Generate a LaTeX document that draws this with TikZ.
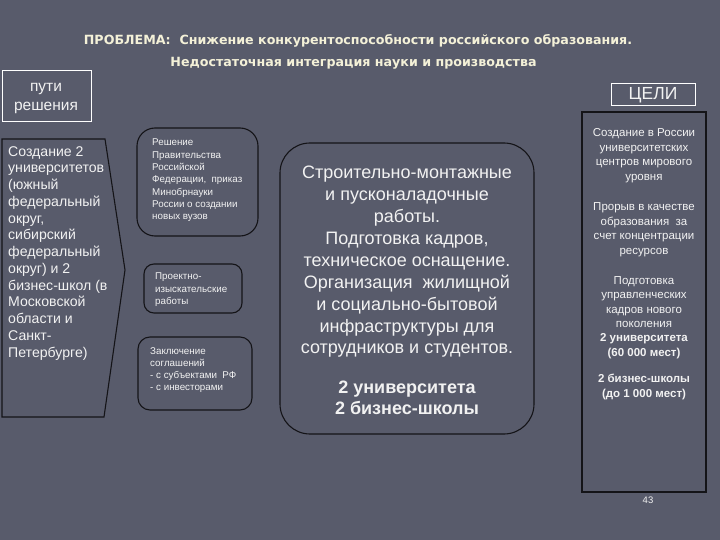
\documentclass[tikz,border=0pt]{standalone}
\usepackage{fontspec}
\setmainfont{Liberation Sans}
\newfontfamily\titlefont{DejaVu Sans}
\definecolor{bg}{HTML}{585B6B}
\definecolor{ttl}{HTML}{F4F1D8}
\definecolor{txt}{HTML}{F2F2F2}
\definecolor{edge}{HTML}{141418}
\tikzset{
  ttext/.style={text=ttl,inner sep=0pt,font=\titlefont\bfseries\fontsize{12.65}{15}\selectfont},
  wbox/.style={draw=white,line width=0.9pt},
  kbox/.style={draw=edge,line width=1.1pt},
  btext/.style={text=txt,inner sep=0pt},
}
\begin{document}
\begin{tikzpicture}[x=1pt,y=-1pt]
\fill[bg] (0,0) rectangle (720,540);
\useasboundingbox (0,0) rectangle (720,540);

% title
\node[ttext,anchor=base] (t1) at (358,44.5) {ПРОБЛЕМА:\ \ Снижение конкурентоспособности российского образования.};
\node[ttext,anchor=base] (t2) at (353.5,66.5) {Недостаточная интеграция науки и производства};

% header boxes
\draw[wbox] (2,70) rectangle (91,121);
\node[btext,align=center,font=\fontsize{15.5}{19}\selectfont] (puti) at (46,99) {пути\\решения};
\draw[wbox] (611,83) rectangle (695,105);
\node[btext,font=\fontsize{17.5}{20}\selectfont] (celi) at (653,95) {ЦЕЛИ};

% left arrow shape
\draw[kbox,line join=miter] (2,139) -- (105,139) -- (125,270) -- (104,417) -- (2,417) -- cycle;
\node[btext,anchor=north west,align=left,font=\fontsize{14.1}{16.75}\selectfont] (left) at (8,146)
 {Создание 2\\университетов\\(южный\\федеральный\\округ,\\сибирский\\федеральный\\округ) и 2\\бизнес-школ (в\\Московской\\области и\\Санкт-\\Петербурге)};

% middle small boxes
\draw[kbox,rounded corners=18pt] (137,128) rectangle (258,236);
\node[btext,anchor=north west,align=left,font=\fontsize{9.8}{12.3}\selectfont] (b1) at (152,139)
 {Решение\\Правительства\\Российской\\Федерации,\ \ приказ\\Минобрнауки\\России о создании\\новых вузов};
\draw[kbox,rounded corners=10pt] (144,264) rectangle (242,313);
\node[btext,anchor=north west,align=left,font=\fontsize{9.8}{12.5}\selectfont] (b2) at (155,273)
 {Проектно-\\изыскательские\\работы};
\draw[kbox,rounded corners=12pt] (138,337) rectangle (252,410);
\node[btext,anchor=north west,align=left,font=\fontsize{9.8}{12.3}\selectfont] (b3) at (150,347)
 {Заключение\\соглашений\\- с субъектами\ \ РФ\\- с инвесторами};

% big box
\draw[kbox,rounded corners=30pt] (280,143) rectangle (534,434);
\node[btext,anchor=north,align=center,font=\fontsize{18}{21.9}\selectfont] (big) at (407,166)
 {Строительно-монтажные\\и пусконаладочные\\работы.\\Подготовка кадров,\\техническое оснащение.\\Организация\ \ жилищной\\и социально-бытовой\\инфраструктуры для\\сотрудников и студентов.};
\node[btext,anchor=north,align=center,font=\bfseries\fontsize{18}{20.5}\selectfont] (bigb) at (407,381)
 {2 университета\\2 бизнес-школы};

% right box
\draw[kbox] (582,112) rectangle (706,492);
\node[btext,anchor=north,align=center,font=\fontsize{11.5}{14.6}\selectfont] (r1) at (644,128.5)
 {Создание в России\\университетских\\центров мирового\\уровня};
\node[btext,anchor=north,align=center,font=\fontsize{11.5}{14.6}\selectfont] (r2) at (644,202.5)
 {Прорыв в качестве\\образования\ \ за\\счет концентрации\\ресурсов};
\node[btext,anchor=north,align=center,font=\fontsize{11.5}{14.3}\selectfont] (r3) at (644,276.5)
 {Подготовка\\управленческих\\кадров нового\\поколения\\\textbf{2 университета}\\\textbf{(60 000 мест)}};
\node[btext,anchor=north,align=center,font=\bfseries\fontsize{11.5}{15.5}\selectfont] (r4) at (644,373.5)
 {2 бизнес-школы\\(до 1 000 мест)};

\node[btext,font=\fontsize{9.5}{11}\selectfont] (pg) at (648,500) {43};
\end{tikzpicture}
\end{document}
